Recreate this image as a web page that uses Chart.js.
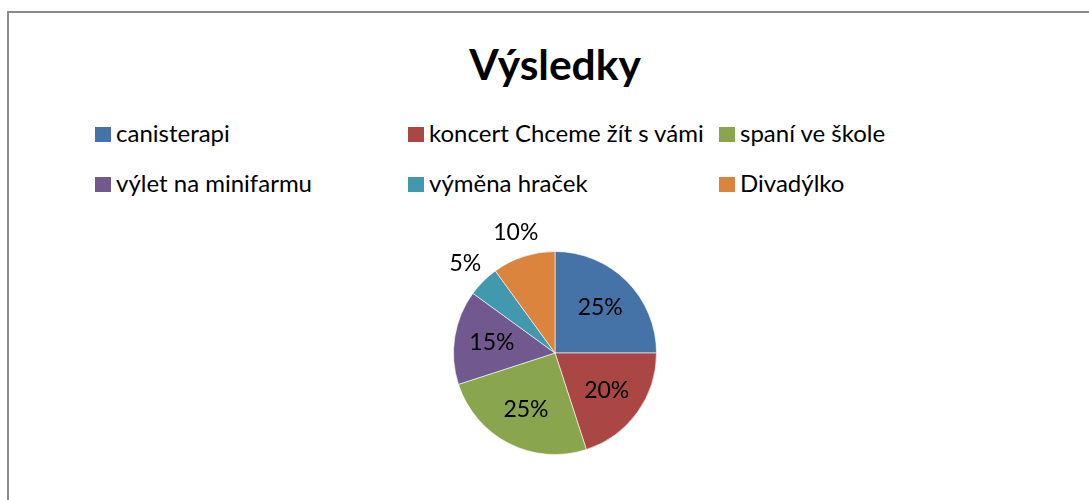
<!DOCTYPE html>
<html>
<head>
<meta charset="utf-8">
<script src="https://cdn.jsdelivr.net/npm/chart.js@4/dist/chart.umd.min.js"></script>
<style>
    html, body { margin: 0; padding: 0; background: #fff; }
    body { width: 1089px; height: 500px; position: relative; overflow: hidden; font-family: Lato, "Open Sans", sans-serif; }
    .frame { position: absolute; left: 7px; top: 11px; width: 1100px; height: 520px; border-left: 2px solid #8a8a8a; border-top: 2px solid #8a8a8a; }
    .title { position: absolute; left: 0; width: 1110px; top: 38px; text-align: center; font-size: 42.5px; font-weight: bold; color: #000; }
    .legend-item { position: absolute; font-size: 24px; color: #000; white-space: nowrap; line-height: 24px; }
    .legend-item .box { display: inline-block; width: 16px; height: 15px; margin-right: 5px; vertical-align: 0px; }
    #chart-wrap { position: absolute; left: 0; top: 0; width: 1089px; height: 500px; }
</style>
</head>
<body>
<div class="frame"></div>
<div class="title">Výsledky</div>
<div id="legend"></div>
<div id="chart-wrap"><canvas id="pie"></canvas></div>
<script>
// Results poll, share of votes per activity (percent)
const categories = ['canisterapi', 'koncert Chceme žít s vámi', 'spaní ve škole', 'výlet na minifarmu', 'výměna hraček', 'Divadýlko'];
const shares = [25, 20, 25, 15, 5, 10];
const sliceColors = ['#4572A7', '#AA4643', '#89A54E', '#71588F', '#4198AF', '#DB843D'];

// legend grid: 3 columns, 2 rows
const legendCols = [95, 408, 719];
const legendRows = [121, 171];

function buildLegend() {
    const host = document.getElementById('legend');
    categories.forEach((name, i) => {
        const item = document.createElement('div');
        item.className = 'legend-item';
        item.style.left = legendCols[i % 3] + 'px';
        item.style.top = legendRows[Math.floor(i / 3)] + 'px';
        item.innerHTML = `<span class="box" style="background:${sliceColors[i]}"></span>${name}`;
        host.appendChild(item);
    });
}

// percent labels: inside for big slices, outside for the small ones
const pieLabels = {
    id: 'pieLabels',
    afterDatasetsDraw(chart) {
        const ctx = chart.ctx;
        const meta = chart.getDatasetMeta(0);
        const total = shares.reduce((a, b) => a + b, 0);
        ctx.save();
        ctx.font = '23px Lato, "Open Sans", sans-serif';
        ctx.fillStyle = '#000';
        ctx.textAlign = 'center';
        ctx.textBaseline = 'middle';
        meta.data.forEach((arc, i) => {
            const p = arc.getProps(['x', 'y', 'startAngle', 'endAngle', 'outerRadius'], true);
            const mid = (p.startAngle + p.endAngle) / 2;
            const dist = shares[i] < 12 ? p.outerRadius * 1.25 : p.outerRadius * 0.63;
            const x = p.x + Math.cos(mid) * dist;
            const y = p.y + Math.sin(mid) * dist;
            ctx.fillText(Math.round(shares[i] / total * 100) + '%', x, y);
        });
        ctx.restore();
    }
};

function drawPie() {
    const ctx = document.getElementById('pie').getContext('2d');
    new Chart(ctx, {
        type: 'pie',
        data: {
            labels: categories,
            datasets: [{
                data: shares,
                backgroundColor: sliceColors,
                borderColor: 'rgba(255,255,255,0.6)',
                borderWidth: 1
            }]
        },
        options: {
            responsive: false,
            animation: false,
            layout: { padding: { left: 453, right: 432, top: 251, bottom: 45 } },
            plugins: {
                legend: { display: false },
                tooltip: { enabled: false },
                title: { display: false }
            }
        },
        plugins: [pieLabels]
    });
}

const canvas = document.getElementById('pie');
canvas.width = 1089;
canvas.height = 500;
buildLegend();
drawPie();
</script>
</body>
</html>
